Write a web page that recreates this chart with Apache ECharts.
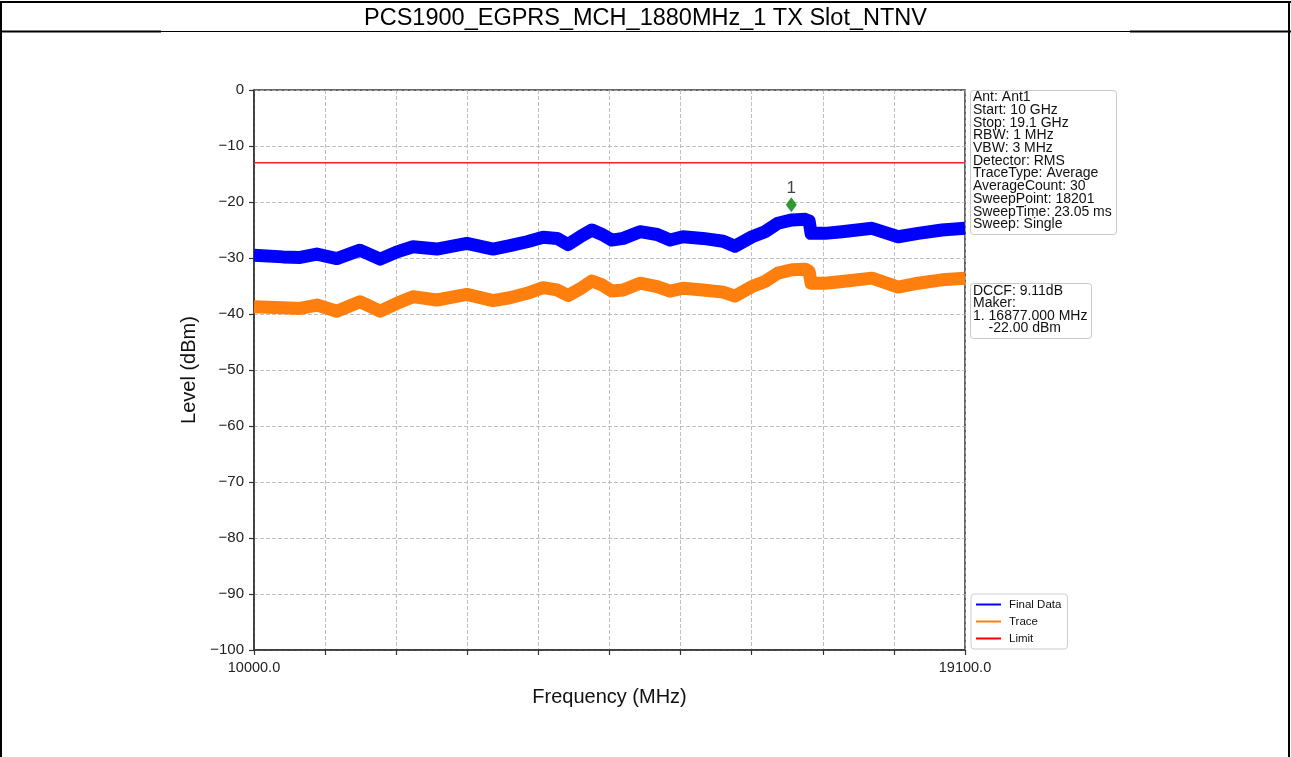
<!DOCTYPE html>
<html>
<head>
<meta charset="utf-8">
<title>PCS1900_EGPRS_MCH_1880MHz_1 TX Slot_NTNV</title>
<script src="https://cdn.jsdelivr.net/npm/echarts@6/dist/echarts.min.js"></script>
<style>
  html, body { margin: 0; padding: 0; background: #fff; }
  #main { width: 1291px; height: 757px; }
</style>
</head>
<body>
<div id="main"></div>
<script>
// values (MHz / dBm)
var freqMHz = [10000, 10370, 10590, 10805, 11060, 11355, 11615, 11830, 12035, 12340, 12725, 13060,
  13275, 13495, 13700, 13880, 14020, 14175, 14325, 14455, 14580, 14725, 14940, 15160, 15325, 15490,
  15745, 16005, 16155, 16375, 16540, 16705, 16885, 17055, 17105, 17130, 17310, 17525, 17910, 18245,
  18500, 18805, 19100];
var finalData = [-29.5, -29.8, -29.9, -29.3, -30.1, -28.6, -30.2, -28.9, -28.0, -28.4, -27.4, -28.4,
  -27.8, -27.1, -26.3, -26.5, -27.6, -26.2, -25.0, -25.8, -26.8, -26.5, -25.3, -25.8, -26.8, -26.2,
  -26.5, -27.0, -27.9, -26.2, -25.3, -23.8, -23.2, -23.1, -23.4, -25.6, -25.6, -25.3, -24.7, -26.2,
  -25.6, -25.0, -24.7];
var traceData = [-38.7, -38.9, -39.0, -38.4, -39.5, -37.8, -39.5, -38.1, -36.9, -37.5, -36.5, -37.6,
  -37.1, -36.3, -35.3, -35.7, -36.7, -35.5, -34.1, -34.8, -35.9, -35.7, -34.5, -35.1, -35.9, -35.4,
  -35.7, -36.1, -36.8, -35.1, -34.2, -32.7, -32.1, -32.0, -32.4, -34.5, -34.5, -34.2, -33.6, -35.2,
  -34.5, -33.9, -33.6];
var limitFreq = [10000, 19100];
var limitLevel = [-13, -13];
var markerFreq = [16877];
var markerLevel = [-20.5];

var xTickLabels = ['10000.0', '', '', '', '', '', '', '', '', '', '19100.0'];
var infoLines = ['Ant: Ant1', 'Start: 10 GHz', 'Stop: 19.1 GHz', 'RBW: 1 MHz', 'VBW: 3 MHz',
  'Detector: RMS', 'TraceType: Average', 'AverageCount: 30', 'SweepPoint: 18201',
  'SweepTime: 23.05 ms', 'Sweep: Single'];
var markerLines = ['DCCF: 9.11dB', 'Maker:', '1. 16877.000 MHz', '    -22.00 dBm'];

var FONT = "'Liberation Sans', Arial, sans-serif";

function pairs(xs, ys) {
  return xs.map(function (x, i) { return [x, ys[i]]; });
}

var chart = echarts.init(document.getElementById('main'));

chart.setOption({
  backgroundColor: '#fff',
  animation: false,
  textStyle: { fontFamily: FONT },
  grid: {
    left: 254, top: 90, width: 711, height: 560,
    show: true, borderColor: '#333', borderWidth: 1.5
  },
  xAxis: [{
    // data axis, hidden
    type: 'value', min: 10000, max: 19100, show: false
  }, {
    // tick / grid axis: 10 equal divisions
    type: 'value', min: 0, max: 10, interval: 1, position: 'bottom',
    name: 'Frequency (MHz)', nameLocation: 'middle', nameGap: 37,
    nameTextStyle: { fontSize: 20, color: '#111', fontFamily: FONT },
    axisLine: { show: true, lineStyle: { color: '#333', width: 1.5 } },
    axisTick: { show: true, length: 5, lineStyle: { color: '#333', width: 1.2 } },
    axisLabel: {
      fontSize: 14.5, color: '#222', margin: 10, fontFamily: FONT,
      formatter: function (v) { return xTickLabels[Math.round(v)] || ''; }
    },
    splitLine: { show: true, lineStyle: { color: '#b0b0b0', width: 0.8, type: [4, 2] } }
  }],
  yAxis: {
    type: 'value', min: -100, max: 0, interval: 10,
    name: 'Level (dBm)', nameLocation: 'middle', nameGap: 54, nameRotate: 90,
    nameTextStyle: { fontSize: 20, color: '#111', fontFamily: FONT },
    axisLine: { show: true, lineStyle: { color: '#333', width: 1.5 } },
    axisTick: { show: true, length: 5, lineStyle: { color: '#333', width: 1.2 } },
    axisLabel: {
      fontSize: 15, color: '#222', margin: 10, fontFamily: FONT,
      formatter: function (v) { return v < 0 ? '\u2212' + (-v) : String(v); }
    },
    splitLine: { show: true, lineStyle: { color: '#b0b0b0', width: 0.8, type: [4, 2] } }
  },
  legend: {
    left: 971, top: 594, orient: 'vertical',
    backgroundColor: '#fff', borderColor: '#ccc', borderWidth: 1, borderRadius: 3,
    padding: [4, 6, 4, 5], itemWidth: 25, itemHeight: 2, itemGap: 4,
    textStyle: { fontSize: 11.5, color: '#111', lineHeight: 13, fontFamily: FONT, padding: [0, 0, 0, 3] },
    data: [
      { name: 'Final Data', icon: 'rect' },
      { name: 'Trace', icon: 'rect' },
      { name: 'Limit', icon: 'rect' }
    ]
  },
  series: [{
    name: 'Final Data', type: 'line', xAxisIndex: 0,
    data: pairs(freqMHz, finalData),
    color: '#0000ff', showSymbol: false, symbol: 'none',
    lineStyle: { color: '#0000ff', width: 13, join: 'round', cap: 'butt' }
  }, {
    name: 'Trace', type: 'line', xAxisIndex: 0,
    data: pairs(freqMHz, traceData),
    color: '#ff7f0e', showSymbol: false, symbol: 'none',
    lineStyle: { color: '#ff7f0e', width: 13, join: 'round', cap: 'butt' }
  }, {
    name: 'Limit', type: 'line', xAxisIndex: 0,
    data: pairs(limitFreq, limitLevel),
    color: '#ff0000', showSymbol: false, symbol: 'none',
    lineStyle: { color: '#ff2020', width: 1.5 }
  }, {
    name: 'Marker', type: 'scatter', xAxisIndex: 0,
    data: pairs(markerFreq, markerLevel),
    symbol: 'diamond', symbolSize: [11, 15],
    itemStyle: { color: '#007f00' },
    label: { show: true, position: 'top', distance: 0, formatter: '1', fontSize: 17, color: '#111', fontFamily: FONT },
    z: 5
  }],
  graphic: [
    // page frame / table borders
    { type: 'rect', shape: { x: 0, y: 1, width: 1291, height: 2 }, style: { fill: '#000' } },
    { type: 'rect', shape: { x: 0, y: 1, width: 2, height: 756 }, style: { fill: '#000' } },
    { type: 'rect', shape: { x: 1288, y: 1, width: 2, height: 756 }, style: { fill: '#000' } },
    { type: 'rect', shape: { x: 0, y: 31, width: 1291, height: 1 }, style: { fill: '#000' } },
    { type: 'rect', shape: { x: 0, y: 30.5, width: 161, height: 2 }, style: { fill: '#000' } },
    { type: 'rect', shape: { x: 1130, y: 30.5, width: 161, height: 2 }, style: { fill: '#000' } },
    {
      type: 'text', left: 'center', top: 7,
      style: { text: 'PCS1900_EGPRS_MCH_1880MHz_1 TX Slot_NTNV', font: '23.5px ' + FONT, fill: '#000' }
    },
    // settings box
    {
      type: 'rect', shape: { x: 970.5, y: 90.5, width: 146, height: 144, r: 3 },
      style: { fill: '#fff', stroke: '#c8c8c8', lineWidth: 1 }, z: 10
    },
    {
      type: 'text', x: 973, y: 91, z: 11,
      style: { text: infoLines.join('\n'), font: '14px ' + FONT, lineHeight: 12.7, fill: '#111' }
    },
    // marker box
    {
      type: 'rect', shape: { x: 970.5, y: 283.5, width: 121, height: 55, r: 3 },
      style: { fill: '#fff', stroke: '#c8c8c8', lineWidth: 1 }, z: 10
    },
    {
      type: 'text', x: 973, y: 285, z: 11,
      style: { text: markerLines.join('\n'), font: '14px ' + FONT, lineHeight: 12.4, fill: '#111' }
    }
  ]
});
</script>
</body>
</html>
